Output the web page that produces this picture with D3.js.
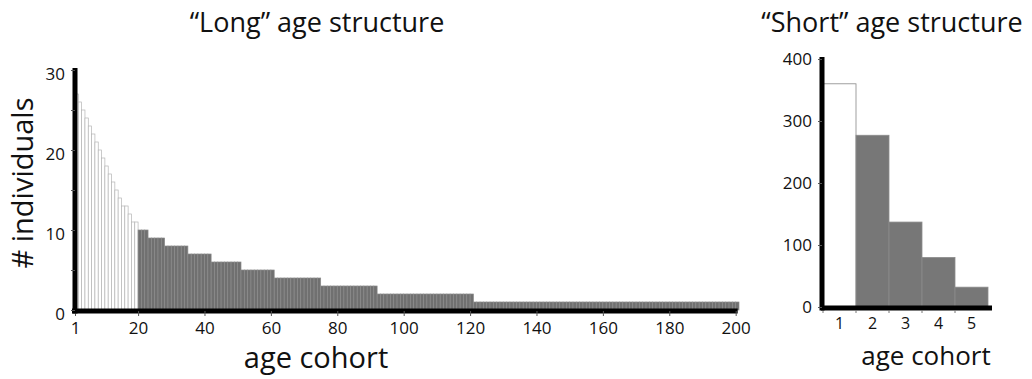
<!DOCTYPE html>
<html>
<head>
<meta charset="utf-8">
<script src="https://cdn.jsdelivr.net/npm/d3@7"></script>
<style>
  body { margin: 0; background: #fff; }
  text { font-family: "Open Sans", "Noto Sans", sans-serif; fill: #111; }
</style>
</head>
<body>
<svg id="chart" width="1032" height="379"></svg>
<script>
// ---- "Long" age structure: individuals per age cohort 1..200 ----
const longCohorts = d3.range(1, 201);
const longCounts = [
  27, 26, 25, 24, 23, 22, 21, 20, 19, 18, 17, 16, 15, 14, 13, 13, 12, 11, 11,
  10, 10, 10,
  9, 9, 9, 9, 9,
  8, 8, 8, 8, 8, 8, 8,
  7, 7, 7, 7, 7, 7, 7,
  6, 6, 6, 6, 6, 6, 6, 6, 6,
  5, 5, 5, 5, 5, 5, 5, 5, 5, 5,
  4, 4, 4, 4, 4, 4, 4, 4, 4, 4, 4, 4, 4, 4,
  3, 3, 3, 3, 3, 3, 3, 3, 3, 3, 3, 3, 3, 3, 3, 3, 3,
  2, 2, 2, 2, 2, 2, 2, 2, 2, 2, 2, 2, 2, 2, 2, 2, 2, 2, 2, 2, 2, 2, 2, 2, 2, 2, 2, 2, 2,
  1, 1, 1, 1, 1, 1, 1, 1, 1, 1, 1, 1, 1, 1, 1, 1, 1, 1, 1, 1,
  1, 1, 1, 1, 1, 1, 1, 1, 1, 1, 1, 1, 1, 1, 1, 1, 1, 1, 1, 1,
  1, 1, 1, 1, 1, 1, 1, 1, 1, 1, 1, 1, 1, 1, 1, 1, 1, 1, 1, 1,
  1, 1, 1, 1, 1, 1, 1, 1, 1, 1, 1, 1, 1, 1, 1, 1, 1, 1, 1, 1
];
const longFirstDark = 20;           // cohorts from here on are shaded
const longXTicks = [1, 20, 40, 60, 80, 100, 120, 140, 160, 180, 200];
const longYTicks = [0, 5, 10, 15, 20, 25, 30];
const longYLabels = [0, 10, 20, 30];

// ---- "Short" age structure: individuals per age cohort 1..5 ----
const shortCohorts = [1, 2, 3, 4, 5];
const shortCounts = [360, 277, 137, 80, 32];
const shortYTicks = [0, 100, 200, 300, 400];

const svg = d3.select("#chart");
const WHITE_FILL = "#ffffff", WHITE_STROKE = "#b4b4b4";
const DARK_FILL = "#707070", DARK_STROKE = "#8a8a8a";

// ================= long panel =================
const xL = d3.scaleLinear().domain([1, 201]).range([75, 739]);
const yL = d3.scaleLinear().domain([0, 30]).range([310, 70]);
const gL = svg.append("g");

gL.selectAll("rect.bar")
  .data(longCohorts.map((c, i) => ({ c, v: longCounts[i] })))
  .join("rect")
  .attr("class", "bar")
  .attr("x", d => xL(d.c))
  .attr("width", d => xL(d.c + 1) - xL(d.c))
  .attr("y", d => yL(d.v))
  .attr("height", d => yL(0) - yL(d.v))
  .attr("fill", d => d.c < longFirstDark ? WHITE_FILL : DARK_FILL)
  .attr("stroke", d => d.c < longFirstDark ? WHITE_STROKE : DARK_STROKE)
  .attr("stroke-width", 0.7);

// x axis
const axL = gL.append("g").attr("transform", `translate(0,${yL(0) + 1})`)
  .call(d3.axisBottom(xL).tickValues(longXTicks).tickSize(5).tickSizeOuter(0).tickPadding(6));
axL.select(".domain").attr("stroke", "#000").attr("stroke-width", 5)
  .attr("d", `M${xL.range()[0] - 3},0H${xL(200) + 2}`);
axL.selectAll(".tick line").attr("stroke", "#555").attr("stroke-width", 1);
axL.selectAll(".tick text").attr("font-size", 17).style("fill", "#111");

// y axis
const ayL = gL.append("g").attr("transform", `translate(${xL(1)},0)`)
  .call(d3.axisLeft(yL).tickValues(longYTicks).tickSize(4).tickSizeOuter(0).tickPadding(6)
    .tickFormat(d => longYLabels.includes(d) ? d : ""));
ayL.select(".domain").attr("stroke", "#000").attr("stroke-width", 5)
  .attr("d", `M0,${yL(30) - 2}V${yL(0) + 3.5}`);
ayL.selectAll(".tick line").attr("stroke", "#555").attr("stroke-width", 1);
ayL.selectAll(".tick text").attr("font-size", 17).attr("dy", "0.55em").style("fill", "#111");

svg.append("text").attr("x", 317).attr("y", 32).attr("text-anchor", "middle")
  .attr("font-size", 27).text("\u201CLong\u201D age structure");
svg.append("text").attr("transform", "translate(33,183) rotate(-90)")
  .attr("text-anchor", "middle").attr("font-size", 29).text("# individuals");
svg.append("text").attr("x", 316).attr("y", 368).attr("text-anchor", "middle")
  .attr("font-size", 29).text("age cohort");

// ================= short panel =================
const xR = d3.scaleBand().domain(shortCohorts).range([823, 988]).padding(0);
const yR = d3.scaleLinear().domain([0, 400]).range([307, 59]);
const gR = svg.append("g");

gR.selectAll("rect.bar")
  .data(shortCohorts.map((c, i) => ({ c, v: shortCounts[i] })))
  .join("rect")
  .attr("class", "bar")
  .attr("x", d => xR(d.c))
  .attr("width", xR.bandwidth())
  .attr("y", d => yR(d.v))
  .attr("height", d => yR(0) - yR(d.v))
  .attr("fill", (d, i) => i === 0 ? WHITE_FILL : "#777777")
  .attr("stroke", (d, i) => i === 0 ? "#888" : "#8c8c8c")
  .attr("stroke-width", 0.8);

// x axis: tick marks at cohort boundaries, labels centred in bars
const axR = gR.append("g").attr("transform", `translate(0,${yR(0) + 1})`);
axR.append("path").attr("stroke", "#000").attr("stroke-width", 5).attr("fill", "none")
  .attr("d", `M${xR.range()[0] - 2},0H${xR.range()[1] + 4}`);
axR.selectAll("line.tk").data(shortCohorts).join("line").attr("class", "tk")
  .attr("x1", d => xR(d)).attr("x2", d => xR(d)).attr("y1", 2).attr("y2", 5)
  .attr("stroke", "#777").attr("stroke-width", 1);
axR.selectAll("text.lb").data(shortCohorts).join("text").attr("class", "lb")
  .attr("x", d => xR(d) + xR.bandwidth() / 2).attr("y", 21)
  .attr("text-anchor", "middle").attr("font-size", 16).text(d => d);

// y axis
const ayR = gR.append("g").attr("transform", `translate(${xR.range()[0] - 1},0)`)
  .call(d3.axisLeft(yR).tickValues(shortYTicks).tickSize(4).tickSizeOuter(0).tickPadding(6));
ayR.select(".domain").attr("stroke", "#000").attr("stroke-width", 5)
  .attr("d", `M0,${yR(400) - 2}V${yR(0) + 3.5}`);
ayR.selectAll(".tick line").attr("stroke", "#555").attr("stroke-width", 1);
ayR.selectAll(".tick text").attr("font-size", 17).attr("dy", "0.3em").style("fill", "#111");

svg.append("text").attr("x", 892).attr("y", 32).attr("text-anchor", "middle")
  .attr("font-size", 27).text("\u201CShort\u201D age structure");
svg.append("text").attr("x", 926).attr("y", 365).attr("text-anchor", "middle")
  .attr("font-size", 26).text("age cohort");
</script>
</body>
</html>
